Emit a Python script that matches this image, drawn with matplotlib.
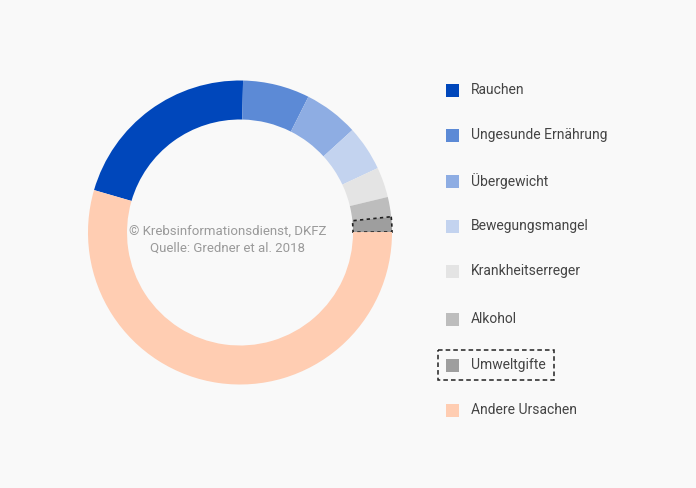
import matplotlib
matplotlib.use("Agg")
import matplotlib.pyplot as plt
from matplotlib.patches import Rectangle

labels = ["Rauchen", "Ungesunde Ernährung", "Übergewicht", "Bewegungsmangel",
          "Krankheitserreger", "Alkohol", "Umweltgifte", "Andere Ursachen"]
values = [20.8, 7.1, 5.8, 4.8, 3.2, 2.1, 1.6, 54.5]
colors = ["#0047BB", "#5C8AD6", "#8EADE3", "#C3D3EF",
          "#E4E4E4", "#BDBDBD", "#9E9E9E", "#FFCDB2"]
highlight = "Umweltgifte"

plt.rcParams["font.family"] = "Roboto"
bg = "#F9F9F9"
fig = plt.figure(figsize=(6.96, 4.88), dpi=100, facecolor=bg)
ax = fig.add_axes([0, 0, 1, 1])
ax.set_facecolor(bg)

# y axis is inverted, so counterclock=True appears clockwise
wedges, _ = ax.pie(values, colors=colors, center=(240, 232.5), radius=152,
                   startangle=196.2, counterclock=True,
                   wedgeprops=dict(width=39, linewidth=0), frame=True)
ax.set_xlim(0, 696)
ax.set_ylim(488, 0)
ax.set_aspect("equal")
ax.axis("off")
for w, lab in zip(wedges, labels):
    if lab == highlight:
        w.set_edgecolor("#222222")
        w.set_linestyle((0, (2, 2)))
        w.set_linewidth(1.2)

ax.text(228, 240, "© Krebsinformationsdienst, DKFZ\nQuelle: Gredner et al. 2018",
        ha="center", va="center", fontsize=9.5, color="#9A9A9A", linespacing=1.35)

ys = [90, 135, 181, 226, 271, 319, 365, 410]
for lab, c, y in zip(labels, colors, ys):
    ax.add_patch(Rectangle((446, y - 6.5), 13, 13, facecolor=c, edgecolor="none"))
    ax.text(471, y, lab, ha="left", va="center", fontsize=10, color="#444444")
    if lab == highlight:
        ax.add_patch(Rectangle((438, y - 15), 116, 30, facecolor="none",
                               edgecolor="#222222", linestyle=(0, (3, 2)), linewidth=1.1))

fig.savefig("out.png", dpi=100, facecolor=bg)
